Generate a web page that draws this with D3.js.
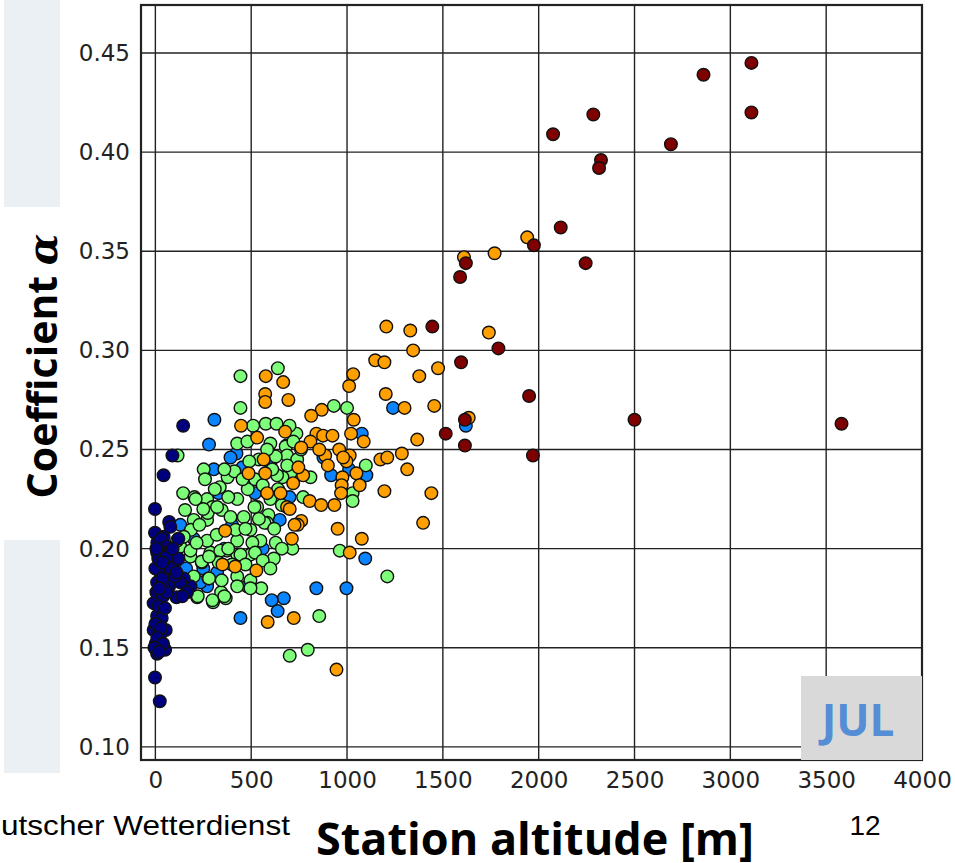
<!DOCTYPE html>
<html>
<head>
<meta charset="utf-8">
<script src="https://cdn.jsdelivr.net/npm/d3@7"></script>
<style>
  body { margin: 0; background: #fff; }
  svg { display: block; }
</style>
</head>
<body>
<svg width="955" height="863"></svg>
<script>
// station altitude [m], coefficient alpha -- one array per colour group
let navyPts = [
    [145,0.262],[89,0.247],[43,0.237],[-2,0.220],[72,0.2135],[-2,0.208],[43,0.206],[10,0.203],
    [30,0.205],[61,0.201],[9,0.198],[43,0.196],[20,0.199],[54,0.191],[96,0.193],[26,0.188],
    [110,0.1755],[183,0.181],[148,0.185],[72,0.181],[9,0.183],[-9,0.1725],[26,0.169],[9,0.166],
    [33,0.165],[54,0.159],[-9,0.159],[23,0.156],[2,0.152],[51,0.149],[9,0.147],[-2,0.135],
    [23,0.123],[0,0.190],[15,0.195],[35,0.185],[5,0.178],[40,0.176],[15,0.171],[0,0.162],
    [30,0.160],[10,0.155],[40,0.152],[-5,0.150],[20,0.148],[60,0.178],[80,0.190],[120,0.195],
    [130,0.183],[100,0.186],[78,0.211],[165,0.178],[120,0.205],[60,0.196],[90,0.200],[20,0.180],
    [50,0.170],[35,0.193],[5,0.200],[110,0.188],[140,0.176]
];
let bluePts = [
    [308,0.265],[280,0.2525],[423,0.248],[392,0.246],[305,0.240],[454,0.241],[649,0.2145],[1240,0.271],
    [1077,0.258],[917,0.237],[1011,0.240],[1101,0.237],[1095,0.195],[840,0.180],[997,0.180],[670,0.175],
    [607,0.174],[638,0.1685],[444,0.165],[479,0.181],[322,0.188],[270,0.181],[235,0.183],[1620,0.262],
    [200,0.205],[250,0.190],[360,0.200],[330,0.228],[560,0.200],[600,0.243],[700,0.226],[520,0.228],
    [400,0.212],[160,0.190],[130,0.212],[877,0.246]
];
let greenPts = [
    [444,0.287],[639,0.291],[444,0.271],[576,0.263],[632,0.263],[427,0.253],[600,0.253],[684,0.252],
    [931,0.272],[1000,0.271],[736,0.258],[680,0.2515],[687,0.247],[740,0.245],[705,0.238],[663,0.236],
    [809,0.236],[771,0.226],[1029,0.228],[1029,0.224],[1098,0.242],[715,0.200],[962,0.199],[1210,0.186],
    [855,0.166],[701,0.146],[795,0.149],[618,0.195],[218,0.1755],[301,0.173],[367,0.175],[552,0.180],
    [343,0.178],[242,0.193],[200,0.186],[277,0.185],[346,0.184],[427,0.186],[287,0.198],[374,0.199],
    [496,0.197],[427,0.197],[130,0.201],[183,0.196],[548,0.204],[628,0.203],[496,0.184],[427,0.181],
    [116,0.247],[252,0.240],[259,0.235],[377,0.236],[412,0.239],[635,0.237],[628,0.2465],[688,0.242],
    [336,0.231],[482,0.230],[145,0.228],[204,0.226],[270,0.225],[427,0.225],[155,0.2195],[298,0.221],
    [346,0.2195],[531,0.221],[200,0.2145],[270,0.2145],[392,0.216],[461,0.216],[590,0.217],[583,0.213],
    [186,0.2095],[148,0.206],[270,0.204],[427,0.204],[506,0.203],[339,0.199],[444,0.197],[210,0.225],
    [273,0.218],[322,0.221],[517,0.221],[569,0.213],[419,0.2095],[496,0.2095],[113,0.204],[183,0.199],
    [242,0.1935],[280,0.185],[221,0.176],[298,0.174],[360,0.176],[496,0.180],[583,0.250],[540,0.245],
    [610,0.240],[520,0.235],[560,0.232],[640,0.230],[600,0.225],[660,0.222],[540,0.215],[620,0.210],
    [470,0.210],[380,0.226],[360,0.240],[310,0.230],[250,0.220],[230,0.212],[320,0.207],[380,0.200],
    [520,0.198],[470,0.192],[560,0.194],[660,0.200],[600,0.190],[400,0.192],[330,0.193],[280,0.196],
    [215,0.203],[480,0.254],[510,0.262],[720,0.254],[760,0.250],[700,0.262],[490,0.244],[455,0.235]
];
let orangePts = [
    [1940,0.357],[1770,0.349],[1610,0.347],[1740,0.309],[1475,0.291],[1455,0.272],[1635,0.266],[1440,0.228],
    [1147,0.295],[1195,0.294],[1345,0.300],[1032,0.288],[1377,0.287],[1011,0.282],[667,0.284],[1202,0.278],
    [694,0.275],[1300,0.271],[868,0.270],[813,0.267],[1035,0.265],[1366,0.255],[677,0.259],[840,0.258],
    [875,0.257],[924,0.257],[1021,0.258],[1087,0.254],[809,0.254],[761,0.251],[959,0.250],[1014,0.247],
    [1174,0.245],[1210,0.246],[1286,0.248],[1314,0.240],[886,0.247],[900,0.242],[976,0.236],[1049,0.238],
    [972,0.232],[1066,0.232],[969,0.228],[1195,0.229],[719,0.233],[771,0.237],[805,0.224],[865,0.222],
    [934,0.222],[687,0.221],[1397,0.213],[951,0.210],[1077,0.205],[761,0.214],[743,0.212],[712,0.205],
    [1014,0.198],[722,0.165],[945,0.139],[586,0.163],[350,0.192],[416,0.191],[527,0.189],[576,0.287],
    [573,0.278],[573,0.274],[447,0.262],[531,0.256],[486,0.238],[565,0.245],[573,0.238],[583,0.228],
    [653,0.228],[701,0.220],[726,0.212],[364,0.209],[746,0.241],[997,0.244],[980,0.246],[855,0.250],
    [1205,0.312],[1330,0.310]
];
let darkRedPts = [
    [2860,0.439],[3110,0.445],[3110,0.420],[2285,0.419],[2075,0.409],[2690,0.404],[2325,0.396],[2315,0.392],
    [2115,0.362],[1975,0.353],[2245,0.344],[1620,0.344],[1590,0.337],[1445,0.312],[1790,0.301],[1595,0.294],
    [1950,0.277],[1615,0.265],[1515,0.258],[1615,0.252],[1970,0.247],[2500,0.265],[3580,0.263]
];

let xTicks = [0, 500, 1000, 1500, 2000, 2500, 3000, 3500, 4000];
let yTicks = [0.10, 0.15, 0.20, 0.25, 0.30, 0.35, 0.40, 0.45];

// draw order and colours (jet-like)
let groups = [
    {pts: bluePts, color: '#0a84ff'},
    {pts: greenPts, color: '#7dff7a'},
    {pts: orangePts, color: '#ff9f00'},
    {pts: navyPts, color: '#00007f'},
    {pts: darkRedPts, color: '#7f0000'}
];

let svg = d3.select('svg');

// plot box in page pixels
let box = {l: 141, r: 922, t: 5, b: 760};

let xScale = d3.scaleLinear().domain([-75, 4000]).range([box.l, box.r]);
let yScale = d3.scaleLinear().domain([0.0934, 0.4742]).range([box.b, box.t]);

// light panels on the far left of the slide
svg.append('rect').attr('x', 4).attr('y', 0).attr('width', 56).attr('height', 207).attr('fill', '#ebf0f5');
svg.append('rect').attr('x', 4).attr('y', 540).attr('width', 56).attr('height', 233).attr('fill', '#ebf0f5');

svg.append('rect')
    .attr('x', box.l).attr('y', box.t)
    .attr('width', box.r - box.l).attr('height', box.b - box.t)
    .attr('fill', '#fff');

// grid
let gridG = svg.append('g');
gridG.selectAll('.vg').data(xTicks).enter().append('line')
    .attr('x1', d => xScale(d)).attr('x2', d => xScale(d))
    .attr('y1', box.t).attr('y2', box.b)
    .attr('stroke', '#222').attr('stroke-width', 1.4);
gridG.selectAll('.hg').data(yTicks).enter().append('line')
    .attr('x1', box.l).attr('x2', box.r)
    .attr('y1', d => yScale(d)).attr('y2', d => yScale(d))
    .attr('stroke', '#222').attr('stroke-width', 1.4);

// points
groups.forEach(function(g) {
    svg.append('g').selectAll('circle').data(g.pts).enter().append('circle')
        .attr('cx', d => xScale(d[0]))
        .attr('cy', d => yScale(d[1]))
        .attr('r', 6.3)
        .attr('fill', g.color)
        .attr('stroke', '#111')
        .attr('stroke-width', 1.4);
});

// frame
svg.append('rect')
    .attr('x', box.l).attr('y', box.t)
    .attr('width', box.r - box.l).attr('height', box.b - box.t)
    .attr('fill', 'none').attr('stroke', '#222').attr('stroke-width', 2.2);

// axes labels (tick text only, ticks sit under the grid)
let xAxis = d3.axisBottom(xScale).tickValues(xTicks).tickSize(0).tickPadding(12).tickFormat(d3.format('d'));
let xAxisG = svg.append('g').attr('transform', 'translate(0,' + box.b + ')').call(xAxis);
xAxisG.select('.domain').remove();
xAxisG.selectAll('text')
    .attr('font-family', 'DejaVu Sans').attr('font-size', 23).attr('fill', '#222');

let yAxis = d3.axisLeft(yScale).tickValues(yTicks).tickSize(0).tickPadding(11).tickFormat(d3.format('.2f'));
let yAxisG = svg.append('g').attr('transform', 'translate(' + box.l + ',0)').call(yAxis);
yAxisG.select('.domain').remove();
yAxisG.selectAll('text')
    .attr('font-family', 'DejaVu Sans').attr('font-size', 23).attr('fill', '#222');

// month box
svg.append('rect')
    .attr('x', 801).attr('y', 676).attr('width', 121).attr('height', 84)
    .attr('fill', '#d9d9d9');
svg.append('text')
    .attr('x', 858).attr('y', 736)
    .attr('text-anchor', 'middle')
    .attr('font-family', 'Open Sans').attr('font-weight', 'bold').attr('font-size', 44)
    .attr('fill', '#558ed5')
    .text('JUL');

// axis titles
let yTitle = svg.append('text')
    .attr('transform', 'translate(57,366) rotate(-90)')
    .attr('text-anchor', 'middle')
    .attr('font-family', 'Open Sans').attr('font-weight', 'bold').attr('font-size', 41)
    .attr('fill', '#000');
yTitle.append('tspan').text('Coefficient ');
yTitle.append('tspan').attr('font-family', 'DejaVu Serif').attr('font-style', 'italic').text('α');

svg.append('text')
    .attr('x', 535).attr('y', 855)
    .attr('text-anchor', 'middle')
    .attr('font-family', 'Open Sans').attr('font-weight', 'bold').attr('font-size', 45)
    .attr('fill', '#000')
    .text('Station altitude [m]');

// slide footer, runs off the left edge like the slide crop
svg.append('text')
    .attr('transform', 'translate(290,835) scale(1.17,1)')
    .attr('text-anchor', 'end')
    .attr('font-family', 'Liberation Sans').attr('font-size', 27)
    .attr('fill', '#000')
    .text('Deutscher Wetterdienst');

svg.append('text')
    .attr('x', 865).attr('y', 835)
    .attr('text-anchor', 'middle')
    .attr('font-family', 'Liberation Sans').attr('font-size', 28)
    .attr('fill', '#000')
    .text('12');
</script>
</body>
</html>
